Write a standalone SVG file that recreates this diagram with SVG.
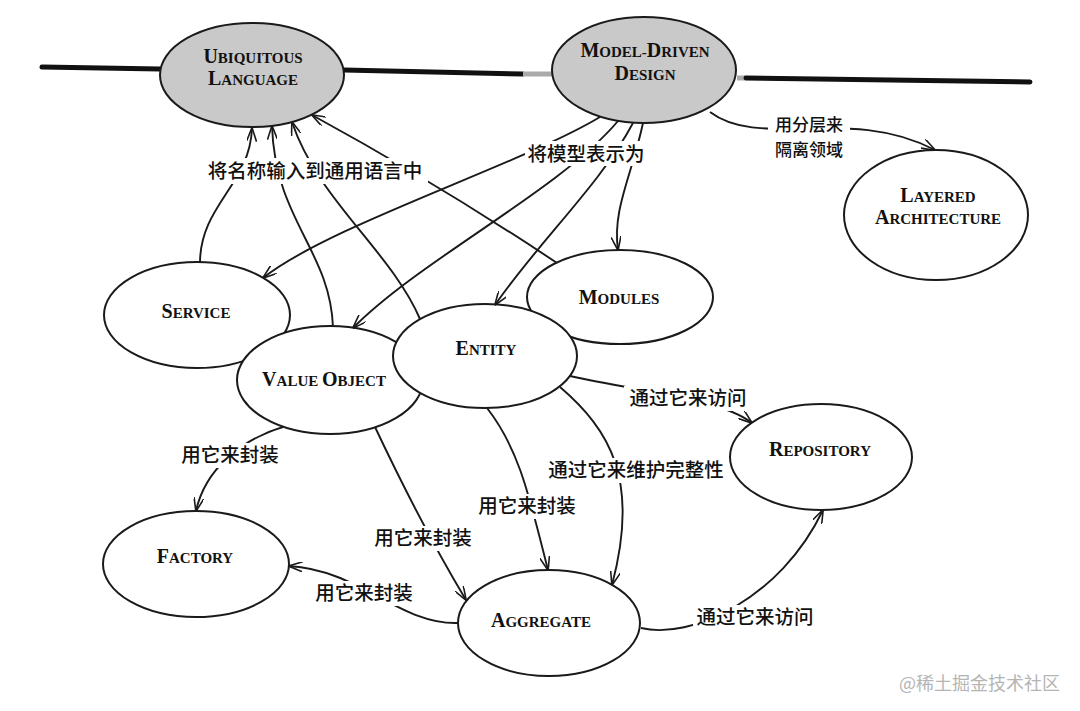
<svg xmlns="http://www.w3.org/2000/svg" width="1080" height="711" viewBox="0 0 1080 711">
<defs>
<style>
.node ellipse{fill:#fff;stroke:#1a1a1a;stroke-width:2}
.core ellipse{fill:#c9c9c9}
.nt{font-family:"Liberation Serif","Times New Roman",serif;font-weight:bold;fill:#111;text-anchor:middle}
.b{font-size:20px}
.s{font-size:15px}
.conn path{fill:none;stroke:#1a1a1a;stroke-width:1.9;marker-end:url(#arr)}
.lbl{font-family:"Noto Sans CJK SC","Noto Sans CJK JP",sans-serif;font-size:19.5px;font-weight:500;fill:#111;text-anchor:middle}
.sm{font-size:17px}
.bg{fill:#fff}
.axis{fill:none;stroke:#111;stroke-width:5;stroke-linecap:round}
</style>
<marker id="arr" viewBox="0 0 14 10" markerWidth="14" markerHeight="10" refX="13.5" refY="5" orient="auto" markerUnits="userSpaceOnUse">
<path d="M0,0 L14,5 L0,10" fill="none" stroke="#1a1a1a" stroke-width="1.6"/>
</marker>
</defs>
<rect width="1080" height="711" fill="#fff"/>

<g id="backbone">
<path class="axis" d="M42,67 L160,69"/>
<path class="axis" d="M344,70 L523,74"/>
<path d="M523,74 L552,74" stroke="#aaa" stroke-width="5" fill="none"/>
<path d="M737,78 L746,78" stroke="#aaa" stroke-width="5" fill="none"/>
<path class="axis" d="M746,78 L1030,82"/>
</g>

<g id="ubiquitous-language" class="node core">
<ellipse cx="252" cy="75" rx="92" ry="52"/>
<text class="nt" x="253" y="63"><tspan class="b">U</tspan><tspan class="s">BIQUITOUS</tspan></text>
<text class="nt" x="253" y="85"><tspan class="b">L</tspan><tspan class="s">ANGUAGE</tspan></text>
</g>
<g id="model-driven-design" class="node core">
<ellipse cx="644" cy="70" rx="92" ry="53"/>
<text class="nt" x="645" y="57"><tspan class="b">M</tspan><tspan class="s">ODEL-</tspan><tspan class="b">D</tspan><tspan class="s">RIVEN</tspan></text>
<text class="nt" x="645" y="80"><tspan class="b">D</tspan><tspan class="s">ESIGN</tspan></text>
</g>
<g id="layered-architecture" class="node">
<ellipse cx="936" cy="215" rx="92" ry="65"/>
<text class="nt" x="938" y="202"><tspan class="b">L</tspan><tspan class="s">AYERED</tspan></text>
<text class="nt" x="938" y="224"><tspan class="b">A</tspan><tspan class="s">RCHITECTURE</tspan></text>
</g>
<g id="modules" class="node">
<ellipse cx="620" cy="297" rx="93" ry="47"/>
<text class="nt" x="619" y="304"><tspan class="b">M</tspan><tspan class="s">ODULES</tspan></text>
</g>
<g id="service" class="node">
<ellipse cx="197" cy="315" rx="93" ry="53"/>
<text class="nt" x="196" y="318"><tspan class="b">S</tspan><tspan class="s">ERVICE</tspan></text>
</g>
<g id="value-object" class="node">
<ellipse cx="330" cy="380" rx="93" ry="54"/>
<text class="nt" x="324" y="386"><tspan class="b">V</tspan><tspan class="s">ALUE </tspan><tspan class="b">O</tspan><tspan class="s">BJECT</tspan></text>
</g>
<g id="entity" class="node">
<ellipse cx="485" cy="356" rx="92" ry="52"/>
<text class="nt" x="486" y="355"><tspan class="b">E</tspan><tspan class="s">NTITY</tspan></text>
</g>
<g id="repository" class="node">
<ellipse cx="821" cy="457" rx="91" ry="53"/>
<text class="nt" x="820" y="456"><tspan class="b">R</tspan><tspan class="s">EPOSITORY</tspan></text>
</g>
<g id="factory" class="node">
<ellipse cx="196" cy="564" rx="93" ry="53"/>
<text class="nt" x="195" y="563"><tspan class="b">F</tspan><tspan class="s">ACTORY</tspan></text>
</g>
<g id="aggregate" class="node">
<ellipse cx="549" cy="623" rx="91" ry="53"/>
<text class="nt" x="541" y="627"><tspan class="b">A</tspan><tspan class="s">GGREGATE</tspan></text>
</g>

<g id="connectors" class="conn">
<path d="M200,263 C200,205 250,185 252,128"/>
<path d="M333,327 C330,250 275,220 272,126"/>
<path d="M420,319 C390,250 318,200 292,122"/>
<path d="M557,263 Q440,185 312,115"/>
<path d="M600,117 C520,165 330,225 263,278"/>
<path d="M618,121 C560,190 420,260 353,328"/>
<path d="M633,123 C600,185 540,240 495,305"/>
<path d="M643,123 C632,175 612,210 618,250"/>
<path d="M710,112 C760,150 850,105 935,150"/>
<path d="M570,376 C640,392 720,398 752,423"/>
<path d="M560,387 C610,430 640,480 612,585"/>
<path d="M487,408 C520,450 530,500 548,570"/>
<path d="M375,427 C400,480 430,540 466,600"/>
<path d="M283,427 C240,440 205,470 196,511"/>
<path d="M458,623 C400,625 360,570 289,566"/>
<path d="M641,628 C690,640 780,600 823,510"/>

<rect class="bg" x="203" y="158" width="225" height="26"/>
<text class="lbl" x="315" y="178">将名称输入到通用语言中</text>
<rect class="bg" x="525" y="141" width="123" height="25"/>
<text class="lbl" x="586" y="161">将模型表示为</text>
<rect class="bg" x="768" y="112" width="82" height="50"/>
<text class="lbl sm" x="809" y="131"><tspan x="809">用分层来</tspan><tspan x="809" dy="25">隔离领域</tspan></text>
<rect class="bg" x="624" y="386" width="127" height="25"/>
<text class="lbl" x="688" y="405">通过它来访问</text>
<rect class="bg" x="545" y="458" width="183" height="25"/>
<text class="lbl" x="636" y="477">通过它来维护完整性</text>
<rect class="bg" x="475" y="494" width="104" height="25"/>
<text class="lbl" x="527" y="513">用它来封装</text>
<rect class="bg" x="371" y="526" width="105" height="25"/>
<text class="lbl" x="423" y="545">用它来封装</text>
<rect class="bg" x="178" y="443" width="105" height="25"/>
<text class="lbl" x="230" y="462">用它来封装</text>
<rect class="bg" x="312" y="581" width="105" height="25"/>
<text class="lbl" x="364" y="600">用它来封装</text>
<rect class="bg" x="693" y="605" width="123" height="25"/>
<text class="lbl" x="755" y="624">通过它来访问</text>
</g>

<text x="1060" y="690" text-anchor="end" font-family="Noto Sans CJK SC, sans-serif" font-size="18" fill="#b5b5b5">@稀土掘金技术社区</text>
</svg>
